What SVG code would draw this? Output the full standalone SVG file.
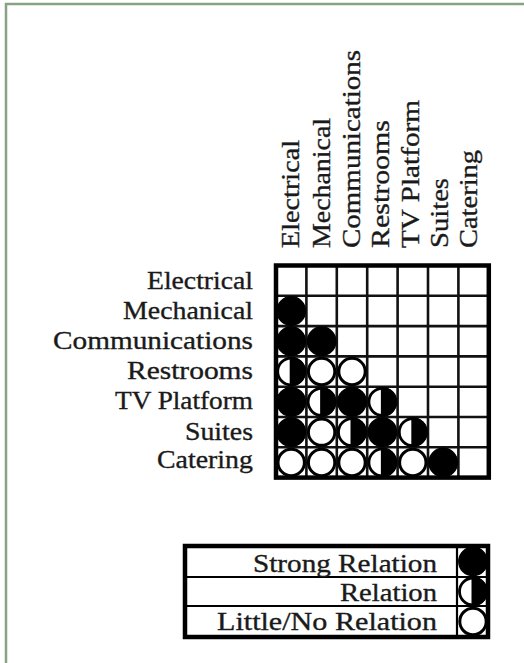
<svg xmlns="http://www.w3.org/2000/svg" xmlns:xlink="http://www.w3.org/1999/xlink" width="524" height="663" viewBox="0 0 524 663">
  <style>
    .lbl { font-family: "Liberation Serif", "Times New Roman", serif; font-size: 26px; fill: #1a1a1a; stroke: #1a1a1a; stroke-width: 0.35; }
    .leg { font-family: "Liberation Serif", "Times New Roman", serif; font-size: 26px; fill: #1a1a1a; stroke: #1a1a1a; stroke-width: 0.35; text-anchor: end; }
    .row { text-anchor: end; }
    .inner { stroke: #111; stroke-width: 2.6; fill: none; }
    .outer { stroke: #000; stroke-width: 4.5; fill: none; }
  </style>
  <defs>
    <g id="strong"><circle r="14.2" fill="#000" stroke="#000" stroke-width="1.5"/></g>
    <g id="rel"><circle r="13.5" fill="#fff" stroke="#000" stroke-width="2.8"/><path d="M-1.5,-14.4 A14.5,14.5 0 1 1 -1.5,14.4 Z" fill="#000"/></g>
    <g id="none"><circle r="13.2" fill="#fff" stroke="#000" stroke-width="3"/></g>
  </defs>
  <rect x="0" y="0" width="524" height="663" fill="#fff"/>
  <path d="M6,663 V4 H524" fill="none" stroke="#86a383" stroke-width="2.5"/>

  <g id="row-labels" class="lbl">
    <text class="row" x="253" y="289" textLength="106" lengthAdjust="spacingAndGlyphs">Electrical</text>
    <text class="row" x="253" y="319" textLength="130" lengthAdjust="spacingAndGlyphs">Mechanical</text>
    <text class="row" x="253" y="349" textLength="200" lengthAdjust="spacingAndGlyphs">Communications</text>
    <text class="row" x="253" y="379" textLength="126" lengthAdjust="spacingAndGlyphs">Restrooms</text>
    <text class="row" x="253" y="409" textLength="138" lengthAdjust="spacingAndGlyphs">TV Platform</text>
    <text class="row" x="253" y="440" textLength="68" lengthAdjust="spacingAndGlyphs">Suites</text>
    <text class="row" x="253" y="468" textLength="96" lengthAdjust="spacingAndGlyphs">Catering</text>
  </g>

  <g id="col-labels" class="lbl">
    <text transform="translate(299,248) rotate(-90)" textLength="108" lengthAdjust="spacingAndGlyphs">Electrical</text>
    <text transform="translate(330,248) rotate(-90)" textLength="130" lengthAdjust="spacingAndGlyphs">Mechanical</text>
    <text transform="translate(360,248) rotate(-90)" textLength="198" lengthAdjust="spacingAndGlyphs">Communications</text>
    <text transform="translate(389,248) rotate(-90)" textLength="128" lengthAdjust="spacingAndGlyphs">Restrooms</text>
    <text transform="translate(419,248) rotate(-90)" textLength="148" lengthAdjust="spacingAndGlyphs">TV Platform</text>
    <text transform="translate(448,248) rotate(-90)" textLength="70" lengthAdjust="spacingAndGlyphs">Suites</text>
    <text transform="translate(477,248) rotate(-90)" textLength="98" lengthAdjust="spacingAndGlyphs">Catering</text>
  </g>

  <g id="matrix">
    <g id="grid-inner" class="inner">
      <path d="M306.4,265.5 V477.6 M336.8,265.5 V477.6 M367.2,265.5 V477.6 M397.6,265.5 V477.6 M428,265.5 V477.6 M458.4,265.5 V477.6"/>
      <path d="M276,295.8 H488.8 M276,326.1 H488.8 M276,356.4 H488.8 M276,386.7 H488.8 M276,417 H488.8 M276,447.3 H488.8"/>
    </g>
    <g id="cells">
      <use xlink:href="#strong" x="291.2" y="310.95"/>
      <use xlink:href="#strong" x="291.2" y="341.25"/>
      <use xlink:href="#strong" x="321.6" y="341.25"/>
      <use xlink:href="#rel" x="291.2" y="371.55"/>
      <use xlink:href="#none" x="321.6" y="371.55"/>
      <use xlink:href="#none" x="352" y="371.55"/>
      <use xlink:href="#strong" x="291.2" y="401.85"/>
      <use xlink:href="#rel" x="321.6" y="401.85"/>
      <use xlink:href="#strong" x="352" y="401.85"/>
      <use xlink:href="#rel" x="382.4" y="401.85"/>
      <use xlink:href="#strong" x="291.2" y="432.15"/>
      <use xlink:href="#none" x="321.6" y="432.15"/>
      <use xlink:href="#rel" x="352" y="432.15"/>
      <use xlink:href="#strong" x="382.4" y="432.15"/>
      <use xlink:href="#rel" x="412.8" y="432.15"/>
      <use xlink:href="#none" x="291.2" y="462.45"/>
      <use xlink:href="#none" x="321.6" y="462.45"/>
      <use xlink:href="#none" x="352" y="462.45"/>
      <use xlink:href="#rel" x="382.4" y="462.45"/>
      <use xlink:href="#none" x="412.8" y="462.45"/>
      <use xlink:href="#strong" x="443.2" y="462.45"/>
    </g>
    <rect id="grid-border" class="outer" x="276" y="265.5" width="212.8" height="212.1"/>
  </g>

  <g id="legend">
    <path d="M185,577 H488 M185,606 H488 M457,546 V637" stroke="#000" stroke-width="2.2" fill="none"/>
    <rect class="outer" x="185" y="546" width="303" height="91"/>
    <text class="leg" x="437" y="572" textLength="184" lengthAdjust="spacingAndGlyphs">Strong Relation</text>
    <text class="leg" x="437" y="601" textLength="97" lengthAdjust="spacingAndGlyphs">Relation</text>
    <text class="leg" x="437" y="630" textLength="220" lengthAdjust="spacingAndGlyphs">Little/No Relation</text>
    <use xlink:href="#strong" x="473" y="561.5"/>
    <use xlink:href="#rel" x="473" y="591.5"/>
    <use xlink:href="#none" x="473" y="621.5"/>
  </g>
</svg>
